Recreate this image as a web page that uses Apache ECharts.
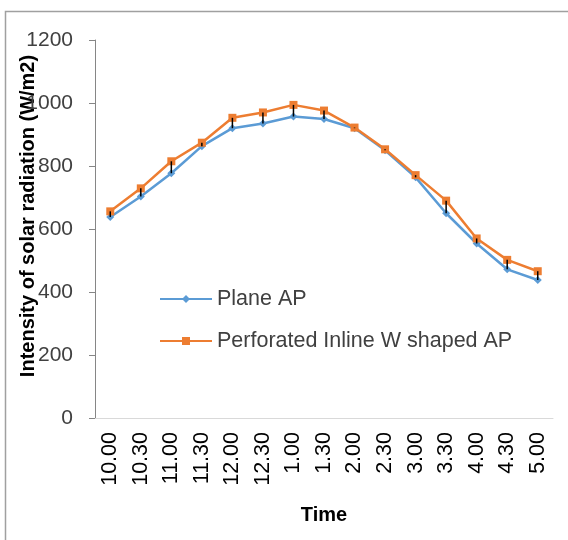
<!DOCTYPE html>
<html>
<head>
<meta charset="utf-8">
<script src="https://cdn.jsdelivr.net/npm/echarts@6/dist/echarts.min.js"></script>
<style>html,body{margin:0;padding:0;background:#fff}#c{width:568px;height:540px}</style>
</head>
<body>
<div id="c"></div>
<script>
var categories = ['10.00','10.30','11.00','11.30','12.00','12.30','1.00','1.30','2.00','2.30','3.00','3.30','4.00','4.30','5.00'];
var planeAP = [638, 703, 777, 863, 920, 935, 957, 949, 920, 850, 764, 650, 554, 472, 438];
var perforatedAP = [656, 729, 815, 874, 953, 970, 994, 976, 922, 853, 771, 690, 570, 502, 466];
var errLow = [18, 26, 38, 11, 33, 35, 37, 27, 2, 3, 7, 40, 16, 30, 28];
var yTicks = [0, 200, 400, 600, 800, 1000, 1200];

var font = 'Liberation Sans, Arial, sans-serif';
var chart = echarts.init(document.getElementById('c'), null, {renderer: 'canvas'});
var errData = categories.map(function (c, i) { return [i, perforatedAP[i], perforatedAP[i] - errLow[i]]; });

chart.setOption({
  animation: false,
  backgroundColor: '#ffffff',
  graphic: [
    {type: 'rect', shape: {x: 5.5, y: 11.5, width: 800, height: 800}, style: {fill: 'none', stroke: '#a0a0a0', lineWidth: 1.5}, z: -1},
    {type: 'text', x: 28, y: 216, rotation: Math.PI / 2,
     style: {text: 'Intensity of solar radiation (W/m2)', font: 'bold 20px ' + font, fill: '#000', align: 'center', verticalAlign: 'middle'}}
  ],
  grid: {left: 95, right: 15, top: 40, bottom: 122, containLabel: false},
  legend: {
    orient: 'vertical', left: 154, top: 283, itemGap: 20, itemWidth: 52, itemHeight: 10,
    textStyle: {fontFamily: font, fontSize: 21.5, color: '#404040'},
    data: ['Plane AP', 'Perforated Inline W shaped AP']
  },
  xAxis: {
    type: 'category', data: categories, boundaryGap: true,
    name: 'Time', nameLocation: 'middle', nameGap: 87,
    nameTextStyle: {fontFamily: font, fontSize: 20, fontWeight: 'bold', color: '#000'},
    axisLine: {lineStyle: {color: '#d9d9d9', width: 1}},
    axisTick: {show: false},
    axisLabel: {rotate: 90, margin: 14, fontFamily: font, fontSize: 21.5, color: '#000', interval: 0}
  },
  yAxis: {
    type: 'value', min: 0, max: 1200, interval: 200,
    axisLine: {show: true, lineStyle: {color: '#868686', width: 1}},
    axisTick: {show: true, length: 6, lineStyle: {color: '#868686'}},
    splitLine: {show: false},
    axisLabel: {margin: 22, fontFamily: font, fontSize: 21, color: '#404040',
      formatter: function (v) { return yTicks.indexOf(v) >= 0 ? String(v) : ''; }}
  },
  series: [
    {name: 'Plane AP', type: 'line', data: planeAP, symbol: 'diamond', symbolSize: 8,
     itemStyle: {color: '#5B9BD5'}, lineStyle: {color: '#5B9BD5', width: 2.5}, z: 2},
    {name: 'Perforated Inline W shaped AP', type: 'line', data: perforatedAP, symbol: 'rect', symbolSize: 8,
     itemStyle: {color: '#ED7D31'}, lineStyle: {color: '#ED7D31', width: 2.5}, z: 3},
    {name: 'err', type: 'custom', data: errData, z: 5,
     renderItem: function (params, api) {
       var a = api.coord([api.value(0), api.value(1)]);
       var b = api.coord([api.value(0), api.value(2)]);
       return {type: 'line', shape: {x1: a[0], y1: a[1], x2: b[0], y2: b[1]}, style: {stroke: '#000', lineWidth: 1.5}};
     }}
  ]
});
</script>
</body>
</html>
